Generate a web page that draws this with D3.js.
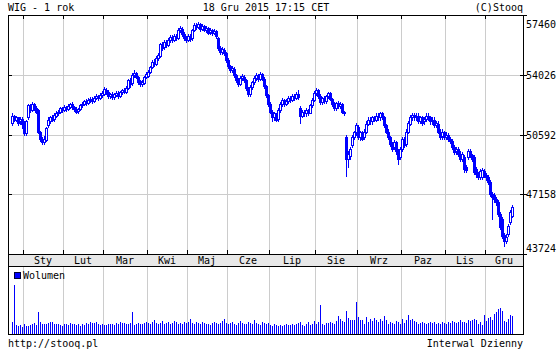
<!DOCTYPE html>
<html><head><meta charset="utf-8">
<script src="https://cdn.jsdelivr.net/npm/d3@7"></script>
<style>
body{margin:0;background:#fff}
svg{display:block}
text{font-family:"DejaVu Sans Mono",monospace;font-size:10px;fill:#000}
</style>
</head><body><svg id="c" width="560" height="350"></svg>
<script>
// ---- data ----
const monthLabels = ["Sty","Lut","Mar","Kwi","Maj","Cze","Lip","Sie","Wrz","Paz","Lis","Gru"];
const monthDays = [20,20,22,20,20,21,23,21,22,22,20,14];
const leadDays = 6; // trading days of Dec 2014 shown
const yTicks = [43724,47158,50592,54026,57460];

const open = [
51280,51680,51450,51570,51340,51510,
51280,50650,51570,52250,52020,52370,52140,52020,50710,50310,50140,50250,51110,51390,51570,51510,51680,51850,51910,52080,
52020,52200,52080,52200,52370,52200,52080,51970,52080,52310,52370,52540,52420,52600,52650,52540,52710,52820,52710,52880,
52940,53170,53050,52820,52940,52770,52880,53000,52820,53050,53170,53050,53280,53740,53570,54030,54140,53910,53680,53510,53570,53910,
53970,54200,54480,54770,54660,55000,55110,55740,55630,55920,55740,56030,56200,56030,56260,56140,56600,56660,56370,56140,
56030,56260,56140,56600,56890,56770,56950,56660,56830,56600,56720,56490,56600,56430,56540,56140,55570,55340,55460,55290,
54890,54540,54310,54370,54030,53800,53510,53850,53910,53740,53280,52940,53340,53630,53850,53970,53800,54080,53800,53400,52880,
52370,51910,51570,51800,51510,52020,52370,52600,52370,52540,52710,52600,52820,52710,52940,52140,51680,51910,51800,51970,51850,52310,52600,
53000,53170,52820,52480,52710,52540,52820,53000,52650,52370,52140,52420,52250,52370,51910,50420,49160,49330,49960,50420,50710,
51050,50420,50710,50420,50760,51220,51450,51340,51570,51450,51680,51570,51800,51620,51160,50760,50420,50020,49850,50140,49620,49280,
49730,50310,50020,50760,51220,51570,51740,51570,51680,51390,51570,51340,51510,51680,51570,51340,51450,51160,51220,50760,50480,50760,
50420,50590,50310,50190,49850,49620,49730,49500,49160,49280,48700,49280,49620,49390,49280,48590,48300,48130,48130,48470,
48250,48130,47840,47160,47100,46870,46700,46010,45730,44810,44470,44870,45560,45900];

const close = [
51680,51450,51620,51280,51510,51220,
50650,51390,52310,52020,52370,52140,51910,50760,50310,50140,50360,50990,51450,51570,51450,51740,51850,51910,52140,52020,
52200,52080,52250,52370,52200,52080,51910,52080,52310,52370,52540,52420,52600,52650,52540,52710,52820,52710,52880,53000,
53230,53050,52820,52940,52770,52940,53000,52820,53050,53170,53050,53280,53740,53510,54030,54140,53910,53630,53510,53630,53910,54080,
54200,54480,54770,54660,55000,55170,55800,55570,55920,55740,56030,56200,56030,56260,56140,56600,56720,56370,56140,56030,
56260,56090,56600,56890,56770,56950,56660,56830,56600,56720,56430,56600,56430,56540,56260,55570,55340,55510,55290,54890,
54540,54310,54430,54030,53740,53510,53850,53970,53740,53280,52940,53340,53630,53850,54030,53800,54080,53850,53400,52880,52370,
51910,51570,51800,51450,52020,52370,52600,52370,52540,52710,52600,52820,52710,52940,52770,51680,51910,51800,52020,51850,52310,52600,53000,
53170,52820,52480,52710,52540,52820,53000,52650,52370,52140,52420,52250,52370,51910,51800,49160,49450,49730,50420,50710,51160,
50420,50710,50360,50760,51220,51450,51340,51570,51450,51680,51570,51800,51620,51160,50760,50420,50020,49730,50140,49620,49160,49730,
50310,49960,50760,51280,51620,51740,51570,51680,51390,51570,51280,51510,51680,51570,51340,51450,51160,51280,50760,50420,50760,50420,
50590,50310,50190,49850,49560,49730,49450,49160,49450,48590,48530,49620,49390,49160,48420,48300,48130,48470,48530,48250,
48130,47840,47160,46990,46870,46700,46010,45270,44760,44470,44700,45330,46130,46410];

const high = [
51800,51740,51680,51620,51570,51570,
51340,51450,52370,52370,52480,52420,52250,52080,50820,50420,50480,51050,51570,51680,51740,51800,51970,52020,52200,52200,
52310,52250,52370,52420,52480,52250,52200,52140,52370,52480,52600,52650,52710,52770,52770,52820,52940,52880,53000,53110,
53340,53280,53170,53000,53050,53000,53110,53110,53110,53230,53280,53400,53800,53850,54140,54310,54200,53970,53740,53740,53970,54200,
54310,54540,54890,54940,55110,55290,55860,55920,56030,56030,56140,56320,56320,56370,56370,56720,56830,56770,56490,56260,
56370,56370,56660,57000,57000,57060,57000,56950,56890,56830,56770,56720,56660,56660,56600,56200,55690,55630,55570,55340,
55000,54600,54540,54480,54080,53850,53970,54080,54030,53800,53340,53450,53680,53970,54140,54080,54200,54140,53910,53450,52940,
52480,52020,51910,51850,52140,52480,52710,52650,52650,52820,52820,52940,52940,53050,53170,52250,52020,52020,52140,52080,52370,52710,53110,
53280,53230,52940,52770,52820,52880,53050,53050,52710,52480,52480,52540,52480,52420,51970,50540,49620,49850,50540,50820,51280,
51110,50820,50820,50880,51340,51570,51570,51680,51680,51800,51800,51910,51910,51680,51220,50880,50480,50140,50250,50190,49730,49850,
50420,50420,50880,51390,51740,51850,51850,51800,51800,51680,51680,51620,51850,51800,51680,51570,51570,51390,51340,50880,50880,50820,
50710,50650,50420,50310,49960,49850,49850,49620,49560,49390,48820,49730,49730,49500,49390,48700,48420,48590,48650,48590,
48360,48250,47960,47270,47210,46990,46810,46130,45840,44930,44870,45440,46240,46530];

const low = [
51160,51340,51340,51160,51220,50990,
50540,50540,51510,51910,51970,52020,51800,50650,50190,50020,50020,50190,51050,51280,51340,51390,51620,51740,51800,51910,
51970,51970,52020,52140,52080,51970,51800,51850,52020,52200,52310,52310,52370,52480,52420,52480,52650,52600,52650,52770,
52880,52940,52710,52710,52650,52650,52820,52710,52770,52940,53000,53000,53230,53340,53450,53910,53850,53510,53400,53400,53510,53850,
53910,54140,54430,54540,54600,54890,55060,55460,55510,55630,55690,55920,55920,55970,56030,56090,56490,56260,56030,55920,
55970,55970,56030,56540,56660,56720,56540,56600,56540,56490,56370,56370,56320,56370,56140,55460,55230,55230,55170,54770,
54430,54200,54200,53910,53630,53400,53450,53740,53630,53170,52820,52820,53230,53510,53740,53680,53740,53740,53280,52770,52250,
51800,51390,51450,51340,51390,51910,52250,52250,52310,52420,52480,52540,52600,52650,52650,51280,51570,51680,51680,51740,51800,52200,52540,
52880,52710,52370,52370,52420,52420,52710,52600,52250,52020,52020,52140,52140,51800,51740,48190,48700,49160,49850,50310,50590,
50310,50250,50250,50310,50650,51110,51220,51220,51340,51340,51450,51450,51510,51050,50650,50310,49910,49620,49730,49450,48880,49160,
49620,49850,49910,50650,51110,51450,51450,51450,51280,51280,51160,51220,51390,51450,51220,51220,51050,51050,50650,50310,50360,50310,
50310,50190,50080,49730,49450,49450,49330,49050,49050,48420,48420,49160,49280,49050,48300,48130,48020,48020,48020,48130,
47960,47730,47040,45730,46700,46530,45900,45160,44640,44180,44360,44760,45440,45840];

const volume = [
1080,4410,810,720,810,630,
900,720,720,810,900,990,810,1980,1080,900,900,900,990,1080,1080,900,900,900,810,720,
900,900,810,990,900,900,810,900,720,900,810,990,900,1080,990,990,1080,900,810,900,
810,810,900,900,900,810,990,900,1080,990,990,900,900,990,1980,810,900,990,900,900,990,1080,
990,900,1080,1260,990,900,990,1170,900,990,1080,900,990,1170,1080,900,990,900,1080,990,
1080,1350,990,900,1080,990,900,1080,990,900,900,810,990,1080,990,900,990,1170,1350,990,
900,990,1080,900,810,990,1170,990,900,900,1080,990,900,1260,990,900,810,1080,990,900,990,
810,720,900,810,720,810,720,810,900,810,810,900,810,900,990,1080,810,720,900,1080,810,900,1170,
900,1080,2610,900,810,990,990,1080,990,900,1170,1620,1350,1170,1080,2070,1440,1260,1260,1260,2880,
1530,1260,1260,900,1530,1080,1350,1170,1440,1260,1080,1350,1170,1620,1260,900,1080,990,900,1170,1080,900,
1350,990,1260,1710,1260,1350,1170,1080,900,990,1080,990,900,990,1080,990,1080,900,990,900,1080,990,
900,1080,990,1170,1080,990,1080,1260,1080,1080,990,1260,1170,1260,1350,1260,900,1080,810,1710,
1170,1440,1530,1260,1800,1980,2250,2340,2070,1170,1080,1350,1710,1620];

// ---- layout ----
const L = 8, R = 523, T = 15, B = 254, bandB = 266, volB = 334;
const BLUE = "#0000ff", GRID = "#cccccc";
const svg = d3.select("#c").attr("shape-rendering","crispEdges");

const x = d3.scaleLinear().domain([-2, 255.5]).range([L, R]);
const y = d3.scaleLinear().domain([43724, 57460]).range([B, T]);
const yv = d3.scaleLinear().domain([0, 6000]).range([volB, bandB + 2]);

// month boundaries (index of first trading day in each month)
const starts = [];
let acc = leadDays;
monthDays.forEach(d => { starts.push(acc); acc += d; });
const ends = starts.map((s, k) => s + monthDays[k]);
const bx = i => Math.round(x(i)) - 1;

// band background
svg.append("rect").attr("x", L).attr("y", B).attr("width", R - L).attr("height", bandB - B)
  .attr("fill", "#e8e8e8");

// vertical grid
const g = svg.append("g");
starts.forEach(s => {
  const xx = bx(s) + 0.5;
  g.append("line").attr("x1", xx).attr("x2", xx).attr("y1", T).attr("y2", B).attr("stroke", GRID);
  g.append("line").attr("x1", xx).attr("x2", xx).attr("y1", bandB).attr("y2", volB).attr("stroke", GRID);
});
// horizontal grid
yTicks.forEach(v => {
  const yy = Math.round(y(v)) + 0.5;
  if (v !== yTicks[0] && v !== yTicks[yTicks.length - 1])
    g.append("line").attr("x1", L).attr("x2", R).attr("y1", yy).attr("y2", yy).attr("stroke", GRID);
});

// month labels
monthLabels.forEach((m, k) => {
  const a = bx(starts[k]);
  const b = k < monthLabels.length - 1 ? bx(starts[k + 1]) : R;
  svg.append("text").attr("x", (a + b) / 2).attr("y", 263.5).attr("text-anchor", "middle").text(m);
});

// candles
const idx = d3.range(close.length);
const cg = svg.append("g");
idx.forEach(i => {
  const cx = Math.round(x(i));
  const yo = Math.round(y(open[i])), yc = Math.round(y(close[i]));
  const top = Math.min(yo, yc), bot = Math.max(yo, yc);
  const yh = Math.min(Math.round(y(high[i])), top), yl = Math.max(Math.round(y(low[i])), bot);
  cg.append("line").attr("x1", cx + 0.5).attr("x2", cx + 0.5).attr("y1", yh).attr("y2", yl + 1)
    .attr("stroke", BLUE);
  if (close[i] >= open[i]) {
    cg.append("rect").attr("x", cx - 0.5).attr("y", top + 0.5).attr("width", 2)
      .attr("height", Math.max(bot - top, 1)).attr("fill", "#fff").attr("stroke", BLUE);
  } else {
    cg.append("rect").attr("x", cx - 1).attr("y", top).attr("width", 3)
      .attr("height", Math.max(bot - top, 1) + 1).attr("fill", BLUE);
  }
});

// volume bars
svg.append("g").selectAll("rect").data(idx).join("rect")
  .attr("x", i => Math.round(x(i)))
  .attr("y", i => Math.round(yv(volume[i])))
  .attr("width", 1)
  .attr("height", i => volB - Math.round(yv(volume[i])))
  .attr("fill", BLUE);

// tick marks at month boundaries
starts.forEach(s => {
  const xx = bx(s) + 0.5;
  svg.append("line").attr("x1", xx).attr("x2", xx).attr("y1", T).attr("y2", T + 4).attr("stroke", "#000");
  svg.append("line").attr("x1", xx).attr("x2", xx).attr("y1", B - 4).attr("y2", B).attr("stroke", "#000");
});

// frames
const frame = (x1, y1, x2, y2) => svg.append("line").attr("x1", x1).attr("y1", y1).attr("x2", x2).attr("y2", y2)
  .attr("stroke", "#000");
frame(L, T + 0.5, R + 1, T + 0.5);
frame(L, B + 0.5, R + 1, B + 0.5);
frame(L, bandB + 0.5, R + 1, bandB + 0.5);
frame(L, volB + 0.5, R + 1, volB + 0.5);
frame(L + 0.5, T, L + 0.5, volB + 1);
frame(R + 0.5, T, R + 0.5, volB + 1);

// y ticks and labels
yTicks.forEach(v => {
  const yy = Math.round(y(v)) + 0.5;
  svg.append("line").attr("x1", L).attr("x2", L + 4).attr("y1", yy).attr("y2", yy).attr("stroke", "#000");
  svg.append("line").attr("x1", R - 3).attr("x2", R + 4).attr("y1", yy).attr("y2", yy).attr("stroke", "#000");
  const ly = Math.min(Math.max(yy, T + 9), B - 6);
  svg.append("text").attr("x", 526).attr("y", ly).attr("dy", "0.35em").text(v);
});

// legend
svg.append("rect").attr("x", 14.5).attr("y", 272.5).attr("width", 6).attr("height", 6)
  .attr("fill", BLUE).attr("stroke", "#000033");
svg.append("text").attr("x", 23).attr("y", 279).text("Wolumen");

// header / footer
svg.append("text").attr("x", 8).attr("y", 11).text("WIG - 1 rok");
svg.append("text").attr("x", 266).attr("y", 11).attr("text-anchor", "middle").text("18 Gru 2015 17:15 CET");
svg.append("text").attr("x", 523).attr("y", 11).attr("text-anchor", "end").text("(C)Stooq");
svg.append("text").attr("x", 8).attr("y", 347).text("http://stooq.pl");
svg.append("text").attr("x", 523).attr("y", 347).attr("text-anchor", "end").text("Interwal Dzienny");
</script>
</body></html>
